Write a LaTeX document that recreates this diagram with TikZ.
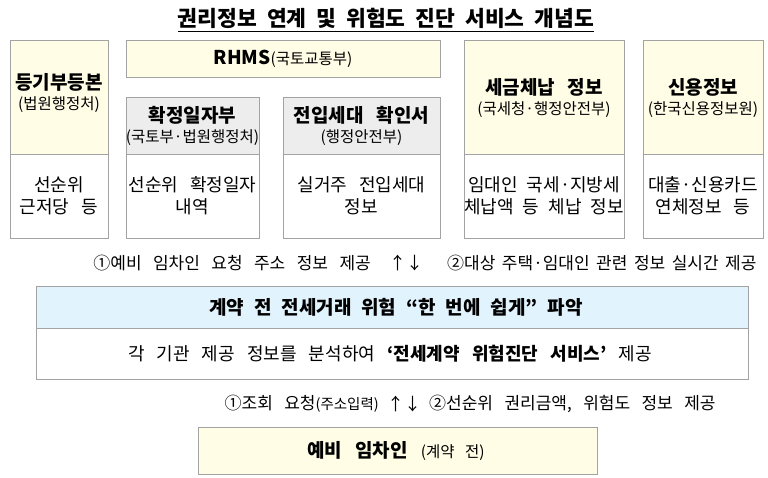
\documentclass[tikz,border=0pt]{standalone}
\usepackage{fontspec}
\setmainfont[WordSpace=3]{Noto Sans CJK KR}
\definecolor{boxline}{HTML}{A3A3A3}
\definecolor{paleyellow}{HTML}{FFFDE6}
\definecolor{palegray}{HTML}{EDEDED}
\definecolor{paleblue}{HTML}{E1F3FC}
\newcommand{\subtxt}[1]{{\fontsize{15.5}{18}\selectfont\mdseries #1}}

\begin{document}
\begin{tikzpicture}[x=1pt, y=-1pt,
    box/.style={draw=boxline, line width=0.9pt},
    txt/.style={inner sep=0pt, align=center, font=\fontsize{18}{22}\selectfont},
    head/.style={inner sep=0pt, align=center, font=\fontsize{19}{20.5}\selectfont\bfseries},
    flowtxt/.style={inner sep=0pt, font=\fontsize{17}{20}\selectfont}]
    \useasboundingbox (0,0) rectangle (768,478);

    %title
    \node[inner sep=0pt, font={\fontsize{21.5}{24}\selectfont\bfseries\spaceskip 10pt\relax}] (title) at (386,18) {권리정보 연계 및 위험도 진단 서비스 개념도};
    \draw[line width=1pt] ([yshift=-5pt]title.base west) -- ([yshift=-5pt]title.base east);

    %registry
    \draw[box, fill=paleyellow] (10,40) rectangle (108,154);
    \draw[box] (10,154) rectangle (108,238);
    \node[head] (regtop) at (59,93) {등기부등본\\\subtxt{(법원행정처)}};
    \node[txt] (regbody) at (59,196) {선순위\\근저당 등};

    %RHMS
    \draw[box, fill=paleyellow] (126,40) rectangle (440,77);
    \node[head] (rhms) at (283,58.5) {RHMS\subtxt{(국토교통부)}};

    %fixed date
    \draw[box, fill=palegray] (126,97) rectangle (259,154);
    \draw[box] (126,154) rectangle (259,238);
    \node[head] (datetop) at (192.5,126) {확정일자부\\\subtxt{(국토부·법원행정처)}};
    \node[txt] (datebody) at (192.5,196) {선순위 확정일자\\내역};

    %move-in household
    \draw[box, fill=palegray] (283,97) rectangle (440,154);
    \draw[box] (283,154) rectangle (440,238);
    \node[head] (movetop) at (361.5,126) {전입세대 확인서\\\subtxt{(행정안전부)}};
    \node[txt] (movebody) at (361.5,196) {실거주 전입세대\\정보};

    %tax
    \draw[box, fill=paleyellow] (464,40) rectangle (624,154);
    \draw[box] (464,154) rectangle (624,238);
    \node[head] (taxtop) at (544,98) {세금체납 정보\\\subtxt{(국세청·행정안전부)}};
    \node[txt, font={\fontsize{18}{22}\selectfont\spaceskip 9pt\relax}] (taxbody) at (544,196) {임대인 국세·지방세\\체납액 등 체납 정보};

    %credit
    \draw[box, fill=paleyellow] (643,40) rectangle (763,154);
    \draw[box] (643,154) rectangle (763,238);
    \node[head] (credtop) at (703,98) {신용정보\\\subtxt{(한국신용정보원)}};
    \node[txt] (credbody) at (703,196) {대출·신용카드\\연체정보 등};

    %upper exchange
    \node[flowtxt] (updown1) at (406,263) {↑↓};
    \node[flowtxt, anchor=east] (ask1) at (371,263) {①예비 임차인 요청 주소 정보 제공};
    \node[flowtxt, anchor=west, font={\fontsize{17}{20}\selectfont\spaceskip 6.5pt\relax}] (give1) at (447,263) {②대상 주택·임대인 관련 정보 실시간 제공};

    %service
    \draw[box, fill=paleblue] (36,286) rectangle (748,328);
    \draw[box] (36,328) rectangle (748,379);
    \node[head, font={\fontsize{19}{20}\selectfont\bfseries\spaceskip 10pt\relax}] (servtop) at (396,307) {계약 전 전세거래 위험 “한 번에 쉽게” 파악};
    \node[txt] (servbody) at (390,353.5) {각 기관 제공 정보를 분석하여 \textbf{‘전세계약 위험진단 서비스’} 제공};

    %lower exchange
    \node[flowtxt] (updown2) at (404,404) {↑↓};
    \node[flowtxt, anchor=east] (ask2) at (379,404) {①조회 요청{\fontsize{14.5}{16}\selectfont(주소입력)}};
    \node[flowtxt, anchor=west] (give2) at (429,404) {②선순위 권리금액, 위험도 정보 제공};

    %tenant
    \draw[box, fill=paleyellow] (198,427) rectangle (597,474);
    \node[head] (tenant) at (396,451) {예비 임차인 \subtxt{(계약 전)}};
\end{tikzpicture}
\end{document}
